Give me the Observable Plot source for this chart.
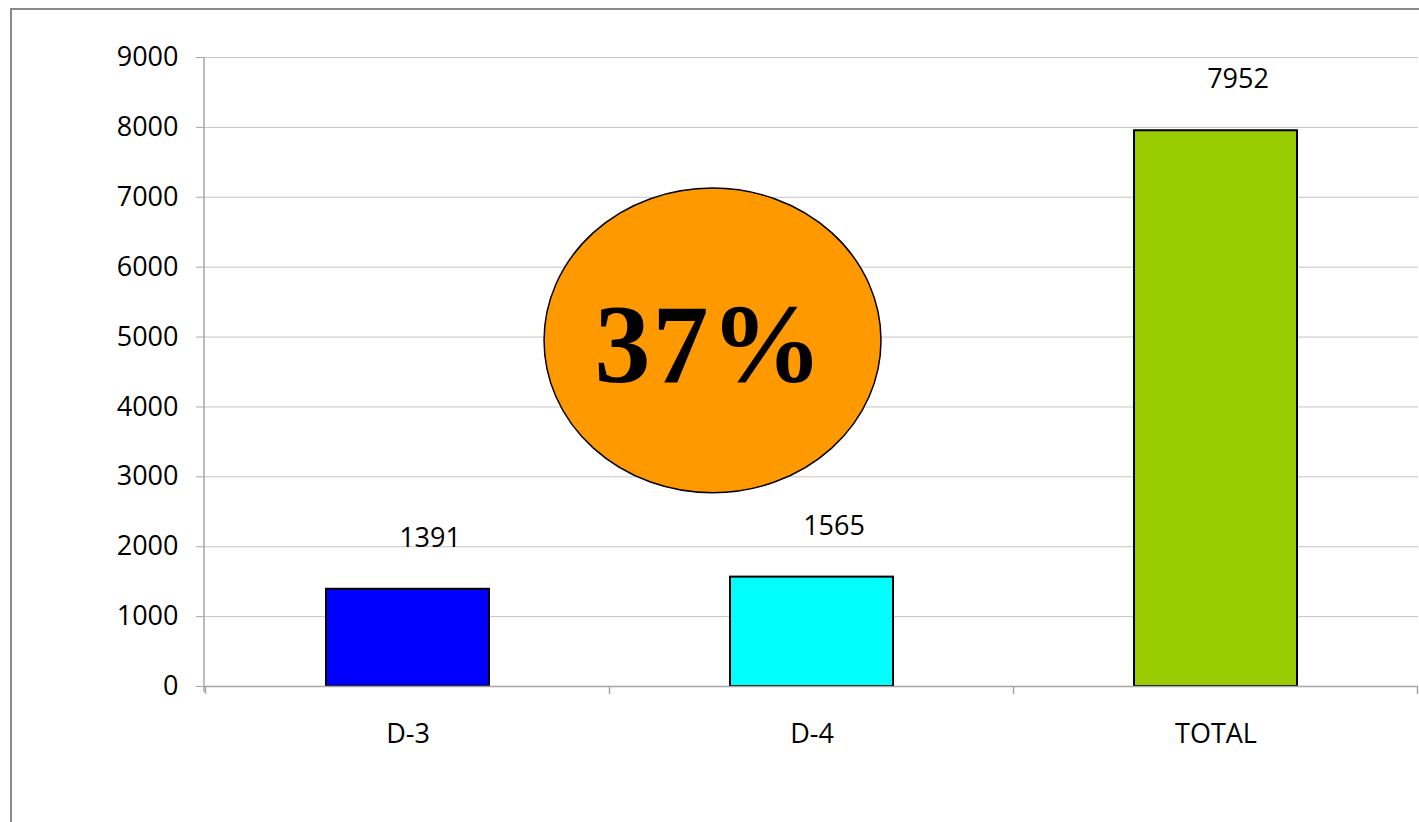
<!DOCTYPE html>
<html>
<head>
<meta charset="utf-8">
<script src="https://cdn.jsdelivr.net/npm/d3@7"></script>
<script src="https://cdn.jsdelivr.net/npm/@observablehq/plot@0.6"></script>
<style>
  html, body { margin: 0; padding: 0; background: #fff; overflow: hidden; }
  #wrap { position: relative; width: 1419px; height: 822px; }
  #border { position: absolute; left: 10px; top: 8px; width: 1500px; height: 1000px;
            border-left: 2px solid #8a8a8a; border-top: 2px solid #8a8a8a; pointer-events: none; }
</style>
</head>
<body>
<div id="wrap"><div id="border"></div></div>
<script>
const categories = ["D-3", "D-4", "TOTAL"];
const values = [1391, 1565, 7952];
const barColors = ["#0000FF", "#00FFFF", "#99CC00"];
const yTicks = [0, 1000, 2000, 3000, 4000, 5000, 6000, 7000, 8000, 9000];
const badgeText = "37%";

const data = categories.map((c, i) => ({cat: c, value: values[i], color: barColors[i]}));

const plot = Plot.plot({
  width: 1419,
  height: 822,
  marginLeft: 204,
  marginRight: 1,
  marginTop: 57,
  marginBottom: 136,
  style: {fontFamily: "'Open Sans', sans-serif", fontSize: "27px", color: "#000", background: "transparent"},
  x: {domain: categories, paddingInner: 0.597, paddingOuter: 0.2985, label: null, axis: null},
  y: {domain: [0, 9000], label: null, axis: null},
  color: {type: "identity"},
  marks: [
    Plot.gridY(yTicks, {stroke: "#c4c4c4", strokeOpacity: 1, strokeWidth: 1}),
    Plot.barY(data, {x: "cat", y: "value", fill: d => d.color, stroke: "#000", strokeWidth: 2}),
    Plot.ruleY([0], {stroke: "#a6a6a6", strokeWidth: 1.5}),
    Plot.axisY({ticks: yTicks, tickSize: 8, tickPadding: 18, stroke: "#a6a6a6", label: null, tickFormat: d => String(d)}),
    Plot.axisX({tickSize: 0, tickPadding: 37, label: null}),
    Plot.text(data, {x: "cat", y: "value", text: d => String(d.value), dx: 22, dy: -51})
  ]
});

document.getElementById("wrap").prepend(plot);

const xs = plot.scale("x");
const ys = plot.scale("y");
const svg = d3.select(plot);
const y0 = ys.apply(0);
const left = xs.range[0];
const step = xs.step;
const bw = xs.bandwidth;
const firstStart = xs.apply(categories[0]) - (step - bw) / 2;

// y axis line
svg.append("line")
  .attr("x1", left).attr("x2", left)
  .attr("y1", ys.apply(9000)).attr("y2", y0 + 6)
  .attr("stroke", "#a6a6a6").attr("stroke-width", 1.5);

// category boundary ticks
for (let i = 0; i <= categories.length; i++) {
  const x = firstStart + i * step;
  svg.append("line")
    .attr("x1", x).attr("x2", x)
    .attr("y1", y0).attr("y2", y0 + 8)
    .attr("stroke", "#a6a6a6").attr("stroke-width", 1.5);
}

// orange badge
const cx = xs.apply(categories[0]) + bw / 2 + 0.755 * step;
const cy = ys.apply(4945);
const g = svg.append("g");
g.append("ellipse")
  .attr("cx", cx).attr("cy", cy)
  .attr("rx", 0.417 * step).attr("ry", ys.apply(0) - ys.apply(2180))
  .attr("fill", "#FF9900").attr("stroke", "#000").attr("stroke-width", 1.5);
g.append("text")
  .attr("x", cx - 3).attr("y", cy + 42)
  .attr("text-anchor", "middle")
  .attr("font-family", "'Liberation Serif', 'Times New Roman', serif")
  .attr("font-weight", "bold")
  .attr("font-size", "112px")
  .attr("letter-spacing", "2px")
  .attr("fill", "#000")
  .text(badgeText);
</script>
</body>
</html>
